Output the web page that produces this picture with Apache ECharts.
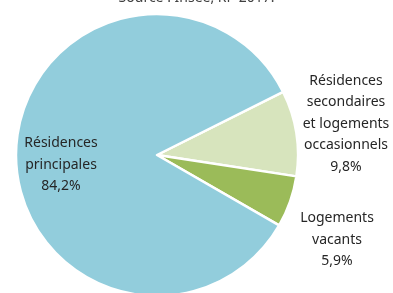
<!DOCTYPE html>
<html>
<head>
<meta charset="utf-8">
<script src="https://cdn.jsdelivr.net/npm/echarts@6/dist/echarts.min.js"></script>
<style>
  html, body { margin: 0; padding: 0; background: #fff; }
  #chart-container { width: 393px; height: 293px; }
</style>
</head>
<body>
<div id="chart-container"></div>
<script>
var categories = ['Résidences secondaires et logements occasionnels', 'Logements vacants', 'Résidences principales'];
var labelTexts = ['Résidences\nsecondaires\net logements\noccasionnels', 'Logements\nvacants', 'Résidences\nprincipales'];
var shares = [9.8, 5.9, 84.2];
var colors = ['#d7e4bd', '#9bbb59', '#92cddc'];

var dom = document.getElementById('chart-container');
var myChart = echarts.init(dom, null, { renderer: 'canvas' });

var fontFamily = 'Noto Sans';

var option = {
  animation: false,
  title: {
    text: 'Source : Insee, RP 2017.',
    left: 'center',
    top: -14,
    textStyle: { fontFamily: fontFamily, fontSize: 14, fontWeight: 'normal', color: '#404040' }
  },
  series: [
    {
      type: 'pie',
      center: [157, 155],
      radius: [0, 141],
      startAngle: 26.6,
      clockwise: true,
      silent: true,
      itemStyle: { borderColor: '#fff', borderWidth: 2.5 },
      labelLine: { show: false },
      label: {
        position: 'inside',
        overflow: 'none',
        fontFamily: fontFamily,
        fontSize: 14,
        lineHeight: 21.5,
        color: '#262626',
        align: 'center',
        formatter: function (p) {
          return labelTexts[p.dataIndex] + '\n' + String(shares[p.dataIndex]).replace('.', ',') + '%';
        }
      },
      labelLayout: function (params) {
        if (params.dataIndex === 0) {
          return { x: 346, y: 124, align: 'center', verticalAlign: 'middle', hideOverlap: false };
        }
        if (params.dataIndex === 1) {
          return { x: 337, y: 240, align: 'center', verticalAlign: 'middle', hideOverlap: false };
        }
        return { x: 61, y: 165, align: 'center', verticalAlign: 'middle', hideOverlap: false };
      },
      data: categories.map(function (c, i) {
        return { name: c, value: shares[i], itemStyle: { color: colors[i] } };
      })
    }
  ]
};

myChart.setOption(option);
window.addEventListener('resize', myChart.resize);
</script>
</body>
</html>
